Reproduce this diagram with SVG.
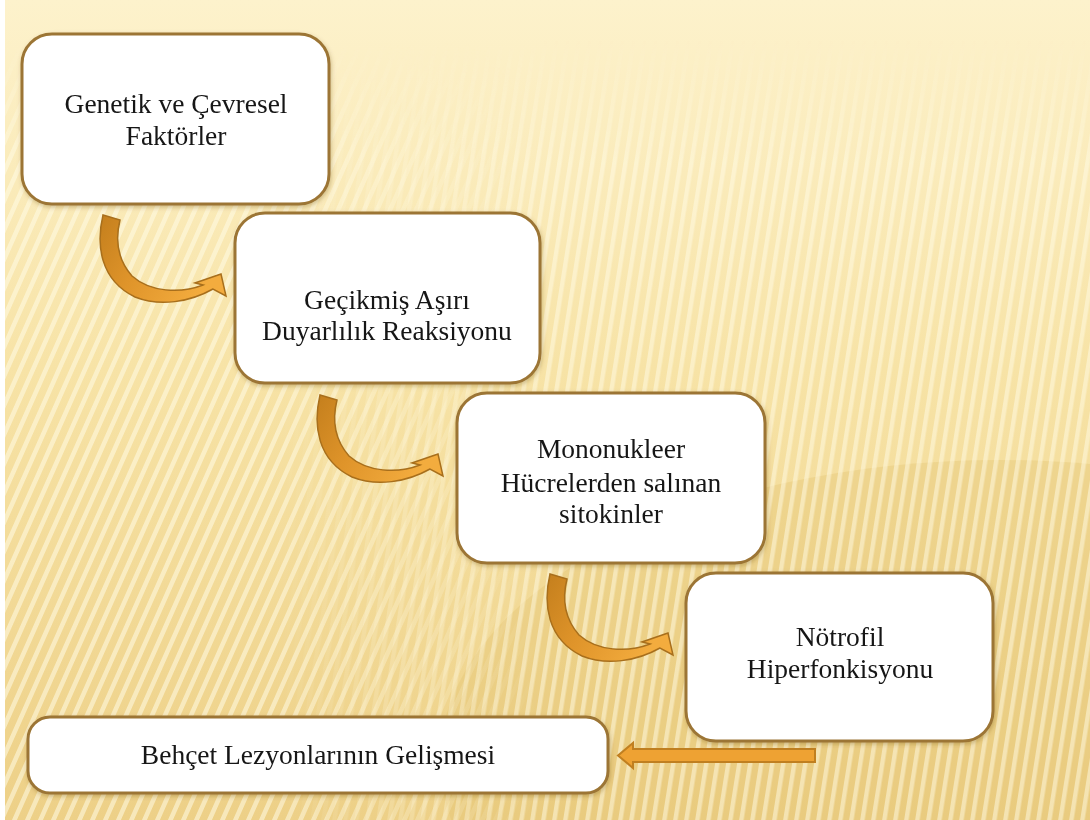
<svg xmlns="http://www.w3.org/2000/svg" width="1090" height="820" viewBox="0 0 1090 820">
<defs>
<linearGradient id="bg" x1="0" y1="0" x2="0" y2="1">
<stop offset="0" stop-color="#fdf2cc"/>
<stop offset="0.45" stop-color="#f7e3a6"/>
<stop offset="1" stop-color="#edd087"/>
</linearGradient>
<pattern id="stripesL" width="13" height="40" patternUnits="userSpaceOnUse" patternTransform="skewX(-24)">
<rect x="0" y="0" width="5" height="40" fill="#fffbe6"/>
</pattern>
<pattern id="stripesR" width="11" height="40" patternUnits="userSpaceOnUse" patternTransform="skewX(-9)">
<rect x="0" y="0" width="4.5" height="40" fill="#fffbe6"/>
</pattern>
<linearGradient id="fade" x1="0" y1="0" x2="0" y2="1">
<stop offset="0" stop-color="#000"/>
<stop offset="0.05" stop-color="#000"/>
<stop offset="0.2" stop-color="#fff"/>
<stop offset="1" stop-color="#fff"/>
</linearGradient>
<linearGradient id="fadeL" x1="0" y1="0" x2="1" y2="0">
<stop offset="0" stop-color="#fff"/>
<stop offset="0.25" stop-color="#fff"/>
<stop offset="0.5" stop-color="#000"/>
<stop offset="1" stop-color="#000"/>
</linearGradient>
<linearGradient id="fadeR" x1="0" y1="0" x2="1" y2="0">
<stop offset="0" stop-color="#000"/>
<stop offset="0.25" stop-color="#000"/>
<stop offset="0.5" stop-color="#fff"/>
<stop offset="1" stop-color="#fff"/>
</linearGradient>
<mask id="mTop">
<rect width="1090" height="820" fill="url(#fade)"/>
</mask>
<mask id="mL">
<rect width="1090" height="820" fill="url(#fadeL)"/>
</mask>
<mask id="mR">
<rect width="1090" height="820" fill="url(#fadeR)"/>
</mask>
<linearGradient id="arr" x1="0" y1="0" x2="1" y2="0.4">
<stop offset="0" stop-color="#c47f1d"/>
<stop offset="0.45" stop-color="#df942a"/>
<stop offset="1" stop-color="#f3ac3e"/>
</linearGradient>
<filter id="sh" x="-10%" y="-10%" width="120%" height="120%">
<feDropShadow dx="1" dy="2" stdDeviation="2" flood-color="#6b4a10" flood-opacity="0.3"/>
</filter>
<path id="curve" d="M103,215 C96,245 100,280 135,297 C160,307 190,302 213,289 L226,296 L221,274 L195,283 L203,285 C180,294 150,292 132,276 C118,260 115,240 120,220 Z"/>
</defs>
<style>
.box{fill:#ffffff;stroke:#9c7534;stroke-width:3}
.t{font-family:"Liberation Serif","Times New Roman",serif;font-size:27.5px;fill:#161616;text-anchor:middle}
.ca{fill:url(#arr);stroke:#a86f1c;stroke-width:1.5}
.ha{fill:#eea233;stroke:#c07f20;stroke-width:2}
</style>
<rect width="1090" height="820" fill="url(#bg)"/>
<ellipse cx="1000" cy="760" rx="560" ry="300" fill="#e2c270" opacity="0.35"/>
<g mask="url(#mTop)">
<rect width="1090" height="820" fill="url(#stripesL)" opacity="0.55" mask="url(#mL)"/>
<rect width="1090" height="820" fill="url(#stripesR)" opacity="0.5" mask="url(#mR)"/>
</g>
<rect x="0" y="0" width="5" height="820" fill="#ffffff"/>

<g id="connectors">
<use href="#curve" class="ca"/>
<use href="#curve" class="ca" transform="translate(217,180)"/>
<use href="#curve" class="ca" transform="translate(447,359)"/>
<path class="ha" d="M815,749 L633,749 L633,743 L618,755.5 L633,768 L633,762 L815,762 Z"/>
</g>

<g id="n1" filter="url(#sh)">
<rect class="box" x="22" y="34" width="307" height="170" rx="30"/>
<text class="t" x="176" y="113">Genetik ve Çevresel</text>
<text class="t" x="176" y="145">Faktörler</text>
</g>
<g id="n2" filter="url(#sh)">
<rect class="box" x="235" y="213" width="305" height="170" rx="30"/>
<text class="t" x="387" y="309">Geçikmiş Aşırı</text>
<text class="t" x="387" y="340">Duyarlılık Reaksiyonu</text>
</g>
<g id="n3" filter="url(#sh)">
<rect class="box" x="457" y="393" width="308" height="170" rx="30"/>
<text class="t" x="611" y="458">Mononukleer</text>
<text class="t" x="611" y="492">Hücrelerden salınan</text>
<text class="t" x="611" y="523">sitokinler</text>
</g>
<g id="n4" filter="url(#sh)">
<rect class="box" x="686" y="573" width="307" height="168" rx="30"/>
<text class="t" x="840" y="646">Nötrofil</text>
<text class="t" x="840" y="678">Hiperfonkisyonu</text>
</g>
<g id="n5" filter="url(#sh)">
<rect class="box" x="28" y="717" width="580" height="76" rx="22"/>
<text class="t" x="318" y="764">Behçet Lezyonlarının Gelişmesi</text>
</g>
</svg>
